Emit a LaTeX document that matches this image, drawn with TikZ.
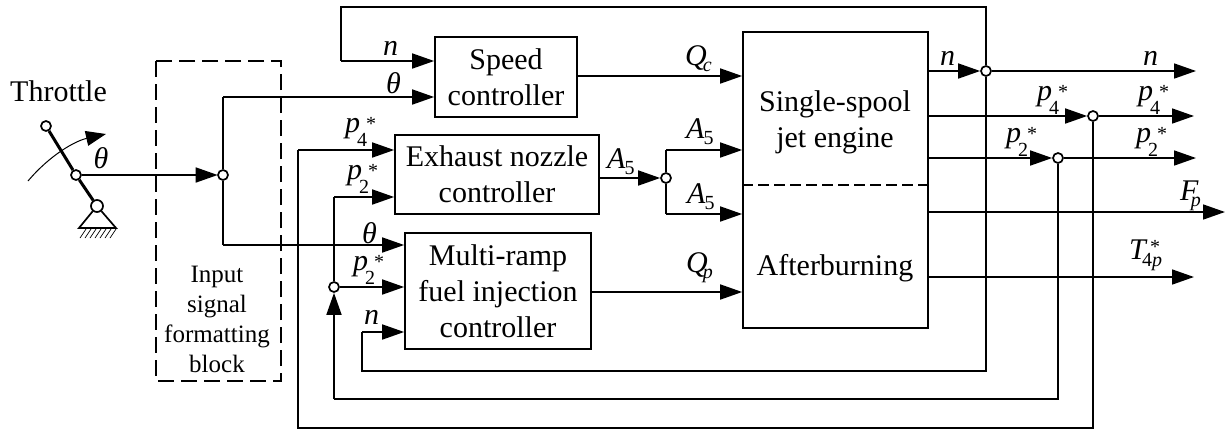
\documentclass[tikz,border=0pt]{standalone}
\usepackage{fontspec}
\setmainfont{Liberation Serif}
\usetikzlibrary{arrows.meta}
\newcommand{\bigf}{\fontsize{30}{36}\selectfont}
\newcommand{\subf}{\fontsize{20}{20}\selectfont}
\newcommand{\thetalab}{\textit{θ}}
\newcommand{\lsub}[3]{\textit{#1}\kern#3pt\raisebox{-6pt}{\subf #2}}
\newcommand{\pstar}[1]{\textit{p}\kern-3pt\rlap{\raisebox{-14pt}{\subf #1}}\kern9pt\raisebox{2pt}{\subf *}}
\tikzset{
  wire/.style={line width=1.7pt},
  flow/.style={wire,-{Triangle[length=22pt,width=15pt]}},
  blockbox/.style={draw,line width=1.7pt,align=center,inner sep=0pt,font=\bigf},
  junction/.style={circle,draw,fill=white,line width=1.7pt,inner sep=0pt,minimum size=10pt},
  lab/.style={anchor=base west,inner sep=0pt,font=\bigf},
  dashline/.style={line width=1.7pt,dash pattern=on 16pt off 7pt},
  thindash/.style={line width=1.3pt,dash pattern=on 11pt off 5pt},
}
\begin{document}
\begin{tikzpicture}[x=1pt,y=-1pt]
\useasboundingbox (0,0) rectangle (1227,432);
% blocks
\node[blockbox,minimum width=142pt,minimum height=80pt] (spd) at (506,77) {Speed\\controller};
\node[blockbox,minimum width=204pt,minimum height=79pt] (exh) at (497,174.5) {Exhaust nozzle\\controller};
\node[blockbox,minimum width=186pt,minimum height=116pt] (mul) at (498,291) {Multi-ramp\\fuel injection\\controller};
\node[draw,line width=1.7pt,minimum width=185pt,minimum height=296pt,inner sep=0pt] (eng) at (835.5,180) {};
\node[lab,anchor=center,align=center] (engA) at (835,122) {Single-spool\\jet engine};
\node[lab,anchor=center] (engB) at (835,268) {Afterburning};
\draw[thindash] (eng.west |- 0,185) -- (eng.east |- 0,185);
% input block
\draw[dashline] (156,61) rectangle (281,381);
\node[align=center,font=\fontsize{25}{30}\selectfont,inner sep=0pt] (inp) at (217,319) {Input\\signal\\formatting\\block};
% throttle
\node[lab,anchor=base west] (thr) at (10,101) {Throttle};
\node[junction] (ltop) at (46,126) {};
\node[junction] (lmid) at (76,175) {};
\node[junction,minimum size=12pt] (lpiv) at (97,206) {};
\draw[line width=3pt] (ltop) -- (lmid);
\draw[line width=3pt] (lmid) -- (lpiv);
\coordinate (tl) at (79,228);
\coordinate (tr) at (116,228);
\draw[line width=1.7pt] (lpiv) -- (tl) -- (tr) -- (lpiv);
\foreach \i in {0,...,6}{\draw[line width=0.7pt] (80+\i*5,238) -- (86+\i*5,229);}
\draw[line width=1pt,-{Triangle[length=20pt,width=15pt]}] (28,181) .. controls (50,155) and (75,141) .. (106,134);
\node[lab,anchor=center] (thA) at (101,158) {\thetalab};
% junctions
\node[junction] (jin) at (223,175) {};
\node[junction] (ja) at (666,178) {};
\node[junction] (jfb) at (334,287) {};
\node[junction] (jn) at (986,71) {};
\node[junction] (jp4) at (1093,116) {};
\node[junction] (jp2) at (1058,158) {};
% input wiring
\draw[flow,shorten >=-0.5pt] (lmid) -- (jin);
\coordinate (it) at (223,97);
\coordinate (ib) at (223,245);
\draw[wire] (jin) -- (it);
\draw[wire] (jin) -- (ib);
\draw[flow] (it) -- (spd.west |- it);
\draw[flow] (ib) -- (mul.west |- ib);
% speed feedback
\coordinate (nt1) at (986,7);
\coordinate (nt2) at (341,7);
\coordinate (nt3) at (341,61);
\draw[wire] (jn) -- (nt1) -- (nt2) -- (nt3);
\draw[flow] (nt3) -- (spd.west |- nt3);
\coordinate (nb1) at (986,371);
\coordinate (nb2) at (362,371);
\coordinate (nb3) at (362,332);
\draw[wire] (jn) -- (nb1) -- (nb2) -- (nb3);
\draw[flow] (nb3) -- (mul.west |- nb3);
% controller outputs
\draw[flow] (spd.east |- 0,76) -- (eng.west |- 0,76);
\draw[flow] (mul.east |- 0,292) -- (eng.west |- 0,292);
\draw[flow] (exh.east |- ja) -- (ja);
\coordinate (at) at (666,150);
\coordinate (ab) at (666,214);
\draw[wire] (ja) -- (at);
\draw[wire] (ja) -- (ab);
\draw[flow] (at) -- (eng.west |- at);
\draw[flow] (ab) -- (eng.west |- ab);
% p4 feedback
\coordinate (p41) at (1093,428);
\coordinate (p42) at (298,428);
\coordinate (p43) at (298,150);
\draw[wire] (jp4) -- (p41) -- (p42) -- (p43);
\draw[flow] (p43) -- (exh.west |- p43);
% p2 feedback
\coordinate (p21) at (1058,399);
\coordinate (p22) at (334,399);
\coordinate (p23) at (334,197);
\draw[wire] (jp2) -- (p21) -- (p22);
\draw[flow] (p22) -- (jfb);
\draw[wire] (jfb) -- (p23);
\draw[flow] (p23) -- (exh.west |- p23);
\draw[flow] (jfb) -- (mul.west |- jfb);
% engine outputs
\coordinate (on) at (1196,71);
\coordinate (op4) at (1194,116);
\coordinate (op2) at (1196,158);
\coordinate (oF) at (1225,212);
\coordinate (oT) at (1194,277);
\draw[flow] (eng.east |- jn) -- (jn);
\draw[flow] (jn) -- (on);
\draw[flow] (eng.east |- jp4) -- (jp4);
\draw[flow] (jp4) -- (op4);
\draw[flow] (eng.east |- jp2) -- (jp2);
\draw[flow] (jp2) -- (op2);
\draw[flow] (eng.east |- oF) -- (oF);
\draw[flow] (eng.east |- oT) -- (oT);
% labels
\node[lab] (l1) at (383,55) {\textit{n}};
\node[lab] (l2) at (386,93) {\thetalab};
\node[lab] (l3) at (685,65) {\lsub{Q}{\textit{c}}{-4}};
\node[lab] (l4) at (345,132) {\pstar{4}};
\node[lab] (l5) at (347,179) {\pstar{2}};
\node[lab] (l6) at (686,138) {\lsub{A}{5}{-1}};
\node[lab] (l7) at (687,203) {\lsub{A}{5}{-1}};
\node[lab] (l8) at (607,168) {\lsub{A}{5}{-1}};
\node[lab] (l9) at (362,243) {\thetalab};
\node[lab] (l10) at (353,270) {\pstar{2}};
\node[lab] (l11) at (364,324) {\textit{n}};
\node[lab] (l12) at (686,272) {\lsub{Q}{\textit{p}}{-5}};
\node[lab] (l13) at (940,65) {\textit{n}};
\node[lab] (l14) at (1143,65) {\textit{n}};
\node[lab] (l15) at (1037,100) {\pstar{4}};
\node[lab] (l16) at (1138,100) {\pstar{4}};
\node[lab] (l17) at (1006,142) {\pstar{2}};
\node[lab] (l18) at (1136,142) {\pstar{2}};
\node[lab] (l19) at (1180,200) {\lsub{F}{\textit{p}}{-8}};
\node[lab] (l20) at (1129,259) {\textit{T}\kern-5.5pt\rlap{\raisebox{-7pt}{\subf 4\textit{p}}}\kern8pt\raisebox{6pt}{\subf *}};
\end{tikzpicture}
\end{document}
